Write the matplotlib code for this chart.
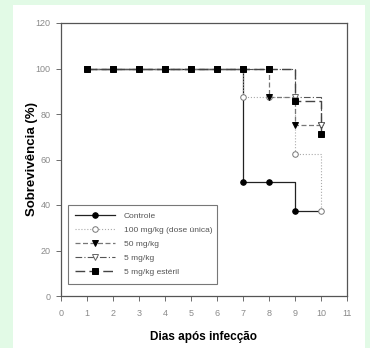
import matplotlib.pyplot as plt
from matplotlib.patches import Rectangle

dias = [1, 2, 3, 4, 5, 6, 7, 8, 9, 10]
controle = [100, 100, 100, 100, 100, 100, 50, 50, 37.5, 37.5]
dose_unica = [100, 100, 100, 100, 100, 100, 87.5, 87.5, 62.5, 37.5]
mg50 = [100, 100, 100, 100, 100, 100, 100, 87.5, 75, 75]
mg5 = [100, 100, 100, 100, 100, 100, 100, 100, 87.5, 75]
mg5_esteril = [100, 100, 100, 100, 100, 100, 100, 100, 85.7, 71.4]

nomes = ["Controle", "100 mg/kg (dose única)", "50 mg/kg", "5 mg/kg", "5 mg/kg estéril"]
xticks = list(range(0, 12))
yticks = [0, 20, 40, 60, 80, 100, 120]

plt.rcParams['font.family'] = ['Liberation Sans', 'DejaVu Sans']

fig = plt.figure(figsize=(3.7, 3.48), dpi=100, facecolor='#e2fae6')
# painel branco
fig.patches.append(Rectangle((13 / 370, 0), (365 - 13) / 370, 1 - 5 / 348,
                             transform=fig.transFigure, facecolor='white',
                             edgecolor='none', zorder=-5))

ax = fig.add_axes([61 / 370, 1 - 296 / 348, (347 - 61) / 370, (296 - 23) / 348])
ax.set_facecolor('white')

estilos = [
    dict(color='#222222', ls='-', lw=0.9, marker='o', mfc='black', mec='black'),
    dict(color='#aaaaaa', ls=':', lw=0.8, marker='o', mfc='white', mec='#777777'),
    dict(color='#777777', ls=(0, (4, 2)), lw=0.9, marker='v', mfc='black', mec='black'),
    dict(color='#555555', ls=(0, (6, 2, 1, 2)), lw=0.8, marker='v', mfc='white', mec='#666666'),
    dict(color='#444444', ls=(0, (7, 3)), lw=1.0, marker='s', mfc='black', mec='black'),
]
series = [controle, dose_unica, mg50, mg5, mg5_esteril]

for nome, y, st in zip(nomes, series, estilos):
    marcas = list(range(len(dias)))
    if nome == "Controle":
        marcas = marcas[:-1]
    ax.step(dias, y, where='post', color=st['color'], ls=st['ls'], lw=st['lw'],
            marker=st['marker'], markevery=marcas, ms=4,
            mfc=st['mfc'], mec=st['mec'], mew=0.7, label=nome)

ax.set_xlim(0, 11)
ax.set_ylim(0, 120)
ax.set_xticks(xticks)
ax.set_yticks(yticks)
ax.tick_params(direction='out', length=3.5, width=0.6, labelsize=6.5,
               labelcolor='#8a8a8a', color='#555555')
ax.tick_params(axis='x', pad=6)
ax.tick_params(axis='y', pad=4)
for s in ax.spines.values():
    s.set_color('#555555')
    s.set_linewidth(0.9)

ax.set_xlabel("Dias após infecção", fontsize=8.5, fontweight='bold', labelpad=9)
ax.set_ylabel("Sobrevivência (%)", fontsize=9.5, fontweight='bold', labelpad=-2)

leg = ax.legend(loc='lower left', bbox_to_anchor=(0.024, 0.045, 0.52, 0.325),
                mode='expand', fontsize=6, frameon=True, fancybox=False,
                handlelength=4.8, borderpad=0.9, labelspacing=0.75,
                handletextpad=1.0, borderaxespad=0)
leg.get_frame().set_edgecolor('#555555')
leg.get_frame().set_linewidth(0.8)
for t in leg.get_texts():
    t.set_color('#555555')

fig.savefig('out.png', dpi=100, facecolor=fig.get_facecolor())
